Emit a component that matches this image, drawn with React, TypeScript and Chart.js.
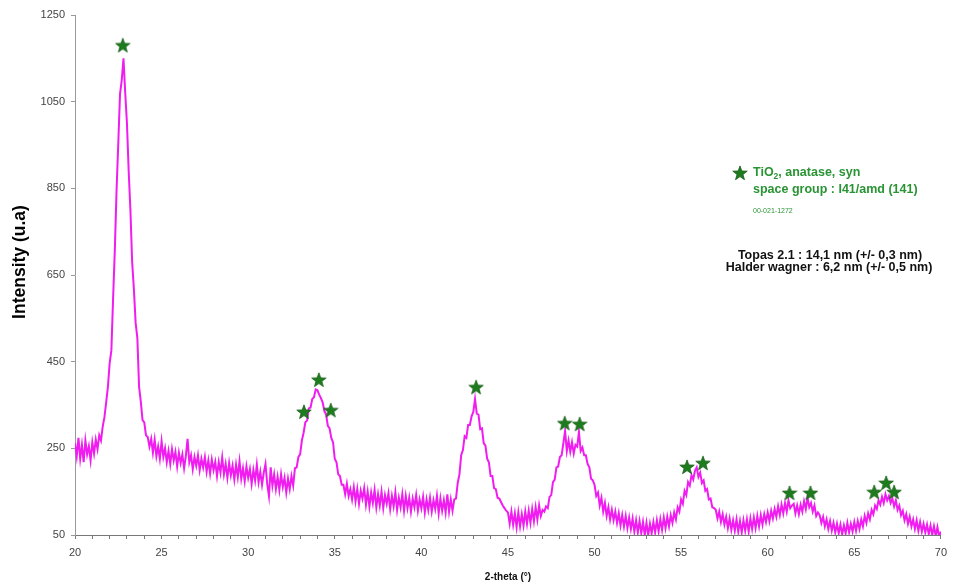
import React, { useEffect, useRef } from "react";
import { Chart, registerables } from "chart.js";

Chart.register(...registerables);

// XRD pattern sampled every 0.1 degree (2-theta), intensity in u.a.
const THETA_START = 20;
const THETA_STEP = 0.1;

const intensity20to30 = [
  262, 232, 274, 226, 258, 218, 268, 236, 255, 222,
  264, 238, 270, 248, 280, 268, 300, 322, 356, 392,
  446, 476, 596, 708, 846, 955, 1068, 1100, 1150, 1070,
  1000, 890, 800, 680, 618, 540, 505, 392, 358, 315,
  310, 280, 276, 254, 272, 240, 270, 232, 254, 226,
  266, 230, 250, 218, 244, 214, 248, 222, 242, 208,
  240, 216, 236, 204, 232, 272, 218, 234, 202, 230,
  210, 234, 200, 226, 206, 230, 196, 222, 192, 224,
  200, 219, 186, 218, 194, 229, 190, 214, 182, 216,
  188, 210, 178, 212, 184, 220, 180, 204, 174, 208,
];

const intensity30to40 = [
  182, 202, 168, 200, 176, 212, 172, 196, 166, 194,
  214, 168, 140, 206, 164, 190, 156, 184, 154, 190,
  161, 182, 148, 180, 156, 186, 164, 204, 206, 230,
  236, 268, 286, 310, 314, 342, 344, 364, 368, 386,
  384, 374, 366, 356, 336, 328, 302, 296, 274, 264,
  226, 218, 190, 186, 166, 166, 144, 168, 140, 156,
  132, 160, 128, 156, 122, 152, 134, 158, 120, 150,
  116, 148, 124, 154, 114, 144, 118, 150, 112, 142,
  122, 146, 110, 140, 116, 148, 108, 136, 114, 144,
  106, 140, 112, 136, 104, 134, 114, 142, 106, 132,
];

const intensity40to50 = [
  112, 138, 102, 132, 108, 136, 104, 130, 110, 140,
  100, 134, 106, 130, 102, 144, 104, 132, 106, 132,
  134, 170, 190, 234, 246, 278, 274, 304, 304, 324,
  334, 364, 330, 328, 294, 296, 262, 256, 226, 218,
  186, 186, 158, 156, 136, 134, 126, 118, 112, 106,
  102, 76, 104, 74, 100, 68, 102, 70, 98, 72,
  104, 76, 106, 78, 110, 82, 114, 86, 118, 94,
  108, 104, 116, 112, 138, 142, 172, 178, 206, 208,
  230, 234, 262, 290, 244, 268, 242, 264, 238, 258,
  254, 288, 244, 252, 234, 234, 214, 206, 180, 176,
];

const intensity50to60 = [
  166, 140, 148, 118, 136, 104, 124, 94, 114, 86,
  108, 84, 104, 78, 100, 72, 96, 70, 94, 66,
  90, 64, 88, 58, 84, 56, 82, 54, 80, 50,
  78, 50, 76, 54, 80, 56, 84, 58, 86, 62,
  90, 66, 92, 70, 96, 78, 102, 86, 114, 104,
  132, 122, 152, 142, 172, 164, 188, 178, 198, 206,
  184, 194, 170, 176, 152, 156, 132, 134, 114, 112,
  108, 88, 104, 80, 98, 74, 92, 66, 88, 62,
  84, 60, 86, 58, 82, 56, 84, 60, 86, 58,
  88, 64, 90, 66, 94, 70, 96, 74, 98, 80,
];

const intensity60to70 = [
  102, 82, 106, 88, 110, 92, 116, 96, 120, 100,
  124, 104, 130, 112, 118, 122, 100, 118, 98, 120,
  104, 128, 110, 136, 114, 124, 104, 118, 94, 102,
  96, 78, 92, 70, 86, 64, 82, 60, 78, 56,
  76, 54, 74, 52, 72, 54, 78, 56, 76, 58,
  80, 60, 82, 64, 86, 70, 94, 78, 100, 86,
  108, 98, 118, 110, 130, 120, 138, 124, 144, 130,
  140, 124, 134, 116, 130, 108, 118, 96, 106, 84,
  98, 76, 92, 70, 86, 64, 84, 60, 80, 58,
  76, 56, 74, 52, 72, 50, 70, 48, 68, 46,
  58,
];

// Anatase reflection markers (green stars)
const starTheta = [22.76, 33.22, 34.08, 34.77, 43.16, 48.28, 49.14, 55.34, 56.26, 61.26, 62.47, 66.15, 66.84, 67.3];
const starIntensity = [1180, 334, 408, 338, 391, 308, 306, 207, 216, 147, 147, 149, 170, 149];

const yTickValues = [50, 250, 450, 650, 850, 1050, 1250];
const xTickValues = Array.from({ length: 51 }, (_, i) => 20 + i);

const FONT = '"Liberation Sans", Arial, Helvetica, sans-serif';

function makeStar(): HTMLCanvasElement {
  const c = document.createElement("canvas");
  c.width = 16;
  c.height = 16;
  const g = c.getContext("2d")!;
  g.beginPath();
  for (let i = 0; i < 10; i++) {
    const r = i % 2 === 0 ? 7.6 : 3.1;
    const a = -Math.PI / 2 + (i * Math.PI) / 5;
    const px = 8 + r * Math.cos(a);
    const py = 8.5 + r * Math.sin(a);
    if (i === 0) g.moveTo(px, py);
    else g.lineTo(px, py);
  }
  g.closePath();
  g.fillStyle = "#1d7d1d";
  g.fill();
  g.strokeStyle = "#145a14";
  g.lineWidth = 0.8;
  g.stroke();
  return c;
}

export default function App() {
  const ref = useRef<HTMLCanvasElement | null>(null);

  useEffect(() => {
    if (!ref.current) return;
    const star = makeStar();
    const allIntensity = [
      ...intensity20to30,
      ...intensity30to40,
      ...intensity40to50,
      ...intensity50to60,
      ...intensity60to70,
    ];
    const pattern = allIntensity.map((y, i) => ({
      x: Math.round((THETA_START + i * THETA_STEP) * 10) / 10,
      y,
    }));
    const stars = starTheta.map((x, i) => ({ x, y: starIntensity[i] }));

    const notes = {
      id: "notes",
      afterDraw(chart: any) {
        const ctx = chart.ctx as CanvasRenderingContext2D;
        ctx.save();
        // y-axis title
        ctx.save();
        ctx.translate(20, 262);
        ctx.rotate(-Math.PI / 2);
        ctx.fillStyle = "#000";
        ctx.font = `bold 17.5px ${FONT}`;
        ctx.textAlign = "center";
        ctx.textBaseline = "middle";
        ctx.fillText("Intensity (u.a)", 0, 0);
        ctx.restore();

        const green = "#2a9434";
        ctx.drawImage(star, 740 - 8, 173 - 8);
        ctx.fillStyle = green;
        ctx.textBaseline = "middle";
        ctx.textAlign = "left";
        let x = 753;
        ctx.font = `bold 12.5px ${FONT}`;
        ctx.fillText("TiO", x, 173);
        x += ctx.measureText("TiO").width;
        ctx.font = `bold 8.5px ${FONT}`;
        ctx.fillText("2", x, 177);
        x += ctx.measureText("2").width;
        ctx.font = `bold 12.5px ${FONT}`;
        ctx.fillText(", anatase, syn", x, 173);
        ctx.fillText("space group : I41/amd (141)", 753, 190);
        ctx.font = `7px ${FONT}`;
        ctx.fillText("00-021-1272", 753, 211);
        ctx.fillStyle = "#111";
        ctx.textAlign = "center";
        ctx.font = `bold 12.5px ${FONT}`;
        ctx.fillText("Topas 2.1 : 14,1 nm (+/- 0,3 nm)", 830, 256);
        ctx.fillText("Halder wagner : 6,2 nm (+/- 0,5 nm)", 829, 268);
        ctx.restore();
      },
    };

    const chart = new Chart(ref.current, {
      type: "scatter",
      data: {
        datasets: [
          {
            label: "pattern",
            data: pattern,
            showLine: true,
            borderColor: "#f01cf0",
            borderWidth: 2,
            pointRadius: 0,
            tension: 0,
            order: 2,
          },
          {
            label: "anatase",
            data: stars,
            showLine: false,
            pointStyle: star as any,
            pointRadius: 8,
            order: 1,
          },
        ],
      },
      options: {
        animation: false,
        responsive: false,
        layout: { padding: { left: 0, top: 15, right: 9, bottom: 0 } },
        plugins: {
          legend: { display: false },
          tooltip: { enabled: false },
        },
        scales: {
          x: {
            type: "linear",
            min: 20,
            max: 70,
            afterBuildTicks: (scale: any) => {
              scale.ticks = xTickValues.map((v) => ({ value: v }));
            },
            afterFit: (scale: any) => {
              scale.height = 49;
            },
            ticks: {
              autoSkip: false,
              maxRotation: 0,
              padding: 7,
              color: "#444",
              font: { family: FONT, size: 11 },
              callback: (v: any) => (Number(v) % 5 === 0 ? String(v) : ""),
            },
            grid: { drawOnChartArea: false, drawTicks: true, tickLength: 4, color: "#777" },
            border: { color: "#777", width: 1 },
            title: {
              display: true,
              text: "2-theta (°)",
              color: "#111",
              font: { family: FONT, size: 10, weight: "bold" },
              padding: { top: 0, bottom: 1 },
            },
          },
          y: {
            type: "linear",
            min: 50,
            max: 1250,
            afterBuildTicks: (scale: any) => {
              scale.ticks = yTickValues.map((v) => ({ value: v }));
            },
            afterFit: (scale: any) => {
              scale.width = 75;
            },
            ticks: {
              padding: 6,
              color: "#444",
              font: { family: FONT, size: 11 },
              callback: (v: any) => String(v),
            },
            grid: { drawOnChartArea: false, drawTicks: true, tickLength: 4, color: "#999" },
            border: { color: "#999", width: 1 },
            title: { display: false },
          },
        },
      },
      plugins: [notes],
    });

    return () => chart.destroy();
  }, []);

  return (
    <div style={{ position: "absolute", left: 0, top: 0, width: 954, height: 584, background: "#fff" }}>
      <canvas ref={ref} width={954} height={584} style={{ display: "block" }} />
    </div>
  );
}
